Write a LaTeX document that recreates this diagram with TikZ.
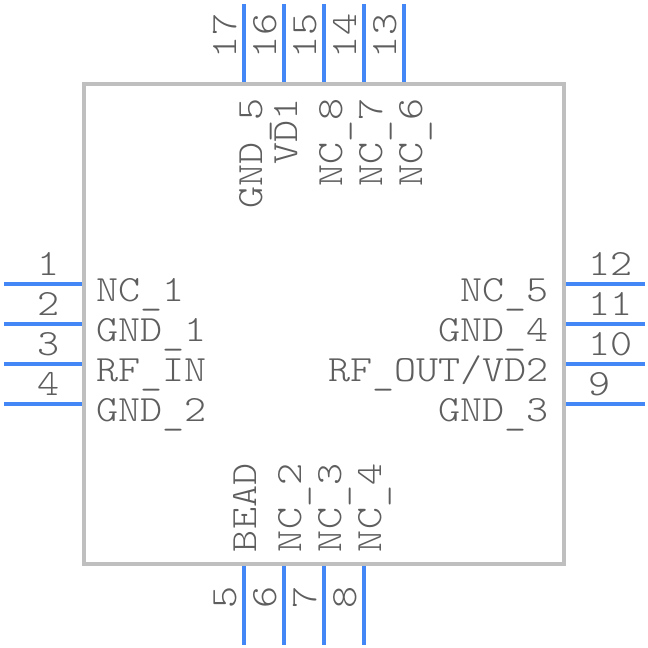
\documentclass[tikz,border=0pt]{standalone}
\usepackage{fontspec}
\setmonofont[FakeStretch=1.135]{Latin Modern Mono Light}
\definecolor{pinblue}{HTML}{4287F5}
\definecolor{boxgray}{HTML}{BFBFBF}
\definecolor{txtgray}{HTML}{5E5E5E}
\newcommand{\lowbar}{\raisebox{-3.5pt}{\_}}
\tikzset{
  x=1pt,y=-1pt,
  pinline/.style={draw=pinblue,line width=4pt},
  bodybox/.style={draw=boxgray,line width=4pt,fill=white},
  lbl/.style={inner sep=0pt,outer sep=0pt,text=txtgray,font=\ttfamily\fontsize{37}{37}\selectfont},
  lw/.style={lbl,anchor=base west},
  le/.style={lbl,anchor=base east},
  vw/.style={lbl,anchor=base west,rotate=90},
  ve/.style={lbl,anchor=base east,rotate=90}
}
\begin{document}
\begin{tikzpicture}
\useasboundingbox (0,0) rectangle (648,648);
\fill[white] (0,0) rectangle (648,648);
% free pin ends
\foreach \n/\yy in {1/284,2/324,3/364,4/404}{
  \coordinate (a\n) at (4,\yy); \coordinate (b\n) at (83,\yy);
  \draw[pinline] (a\n) -- (b\n);}
\foreach \n/\yy in {12/284,11/324,10/364,9/404}{
  \coordinate (a\n) at (645,\yy); \coordinate (b\n) at (565,\yy);
  \draw[pinline] (a\n) -- (b\n);}
\foreach \n/\xx in {17/244,16/284,15/324,14/364,13/404}{
  \coordinate (a\n) at (\xx,4); \coordinate (b\n) at (\xx,83);
  \draw[pinline] (a\n) -- (b\n);}
\foreach \n/\xx in {5/244,6/284,7/324,8/364}{
  \coordinate (a\n) at (\xx,645); \coordinate (b\n) at (\xx,565);
  \draw[pinline] (a\n) -- (b\n);}
\draw[bodybox] (84,84) rectangle (564,564);
% pin numbers
\foreach \t/\yy in {1/275,2/315,3/355,4/395}{\node[le] (n\t) at (60,\yy) {\t};}
\foreach \t/\yy in {12/275,11/315,10/355,9/395}{\node[lw] (n\t) at (588,\yy) {\t};}
\foreach \t/\xx in {17/236,16/276,15/316,14/356,13/396}{\node[vw] (n\t) at (\xx,58) {\t};}
\foreach \t/\xx in {5/236,6/276,7/316,8/356}{\node[ve] (n\t) at (\xx,586) {\t};}
% left names
\node[lw] (NCa) at (96,301) {NC\lowbar 1};
\node[lw] (GNDa) at (96,341) {GND\lowbar 1};
\node[lw] (RFIN) at (96,381) {RF\lowbar IN};
\node[lw] (GNDb) at (96,421) {GND\lowbar 2};
% right names
\node[le] (NCe) at (549,301) {NC\lowbar 5};
\node[le] (GNDd) at (549,341) {GND\lowbar 4};
\node[le] (RFOUT) at (549,381) {RF\lowbar OUT/VD2};
\node[le] (GNDc) at (549,421) {GND\lowbar 3};
% top names
\node[ve] (GNDe) at (262,98.5) {GND\lowbar 5};
\node[ve] (VD) at (297,98.5) {VD1};
\node[ve] (NCh) at (342,98.5) {NC\lowbar 8};
\node[ve] (NCg) at (382,98.5) {NC\lowbar 7};
\node[ve] (NCf) at (422,98.5) {NC\lowbar 6};
% bottom names
\node[vw] (BEAD) at (256,552) {BEAD};
\node[vw] (NCb) at (301,552) {NC\lowbar 2};
\node[vw] (NCc) at (341,552) {NC\lowbar 3};
\node[vw] (NCd) at (381,552) {NC\lowbar 4};
\end{tikzpicture}
\end{document}
